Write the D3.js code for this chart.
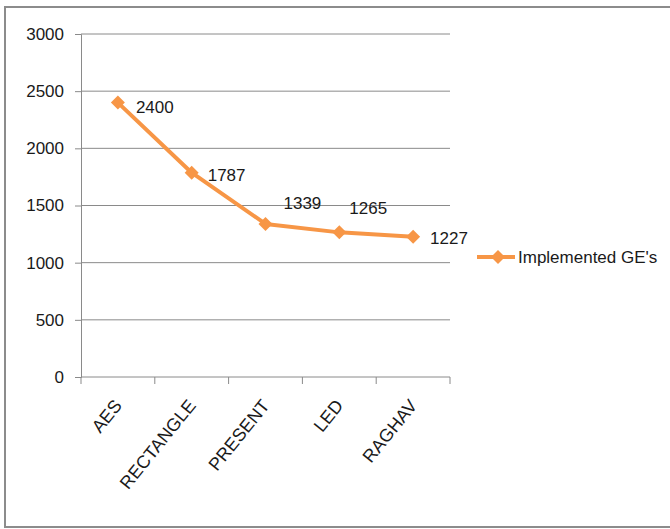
<!DOCTYPE html>
<html>
<head>
<meta charset="utf-8">
<script src="https://cdn.jsdelivr.net/npm/d3@7"></script>
<style>
  body { margin: 0; background: #fff; }
  text { font-family: "Liberation Sans", Arial, sans-serif; fill: #1a1a1a; }
</style>
</head>
<body>
<div id="chart"></div>
<script>
var categories = ["AES", "RECTANGLE", "PRESENT", "LED", "RAGHAV"];
var values = [2400, 1787, 1339, 1265, 1227];
var yTicks = [0, 500, 1000, 1500, 2000, 2500, 3000];
var seriesName = "Implemented GE's";
// where each value label sits next to its point
var labelShift = [[18, 10], [16, 8], [18, -15], [10, -18], [17, 7]];

var width = 670;
var height = 529;
var orange = "#f79646";
var grey = "#8a8a8a";

var svg = d3.select("#chart").
append("svg").
attr("width", width).
attr("height", height);

// outer frame
svg.append("rect").
attr("x", 5).
attr("y", 7).
attr("width", 700).
attr("height", 520).
attr("fill", "none").
attr("stroke", "#8c8c8c").
attr("stroke-width", 2);

var x = d3.scaleBand().domain(categories).range([81, 450]);
var y = d3.scaleLinear().domain([0, 3000]).range([377, 34]);

// gridlines
svg.append("g").
selectAll("line").
data(yTicks.slice(1)).
enter().
append("line").
attr("x1", 81).
attr("x2", 450).
attr("y1", function (d) { return y(d); }).
attr("y2", function (d) { return y(d); }).
attr("stroke", grey).
attr("stroke-width", 1);

var yAxis = d3.axisLeft(y).tickValues(yTicks).tickFormat(d3.format("d")).tickSize(6).tickPadding(11);
var gy = svg.append("g").
attr("transform", "translate(81,0)").
call(yAxis);
gy.selectAll("path, line").attr("stroke", grey);
gy.selectAll("text").attr("font-size", 17).attr("fill", "#1a1a1a").
style("font-family", "'Liberation Sans', Arial, sans-serif");

// x axis line and ticks between categories
svg.append("line").
attr("x1", 81).attr("x2", 450).
attr("y1", 377).attr("y2", 377).
attr("stroke", grey);

var bounds = categories.map(function (c) { return x(c); }).concat([450]);
svg.append("g").
selectAll("line").
data(bounds).
enter().
append("line").
attr("x1", function (d) { return d; }).
attr("x2", function (d) { return d; }).
attr("y1", 377).
attr("y2", 384).
attr("stroke", grey);

// category labels
svg.append("g").
selectAll("text").
data(categories).
enter().
append("text").
attr("text-anchor", "end").
attr("font-size", 18).
attr("transform", function (d) {
  return "translate(" + (x(d) + x.bandwidth() / 2 + 5) + ",406) rotate(-51)";
}).
text(function (d) { return d; });

var cx = function (d, i) { return x(categories[i]) + x.bandwidth() / 2; };

var line = d3.line().
x(function (d, i) { return cx(d, i); }).
y(function (d) { return y(d); });

svg.append("path").
datum(values).
attr("d", line).
attr("fill", "none").
attr("stroke", orange).
attr("stroke-width", 4).
attr("stroke-linejoin", "round");

var diamond = "M0,-7L7,0L0,7L-7,0Z";

svg.append("g").
selectAll("path").
data(values).
enter().
append("path").
attr("d", diamond).
attr("fill", orange).
attr("transform", function (d, i) {
  return "translate(" + cx(d, i) + "," + y(d) + ")";
});

svg.append("g").
selectAll("text").
data(values).
enter().
append("text").
attr("font-size", 17).
attr("x", function (d, i) { return cx(d, i) + labelShift[i][0]; }).
attr("y", function (d, i) { return y(d) + labelShift[i][1]; }).
text(function (d) { return d; });

// legend
var legend = svg.append("g").attr("transform", "translate(477,257)");
legend.append("line").
attr("x1", 0).attr("x2", 38).
attr("y1", 0).attr("y2", 0).
attr("stroke", orange).
attr("stroke-width", 4);
legend.append("path").
attr("d", diamond).
attr("fill", orange).
attr("transform", "translate(21,0)");
legend.append("text").
attr("x", 41).
attr("y", 6).
attr("font-size", 17).
text(seriesName);
</script>
</body>
</html>
